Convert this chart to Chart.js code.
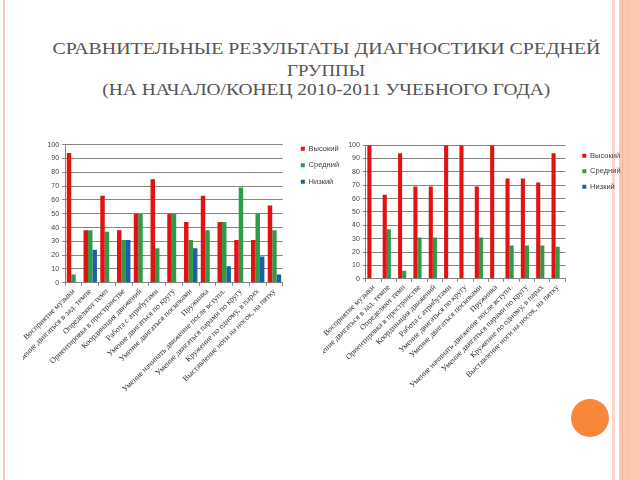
<!DOCTYPE html>
<html><head><meta charset="utf-8">
<script src="https://cdn.jsdelivr.net/npm/chart.js@4"></script>
<style>
html,body{margin:0;padding:0;background:#fff;width:640px;height:480px;overflow:hidden;position:relative;}
.deco{position:absolute;}
.tl{position:absolute;left:0;width:652px;text-align:center;font-family:"Liberation Serif","Times New Roman",serif;color:#555555;font-size:16.5px;line-height:20px;white-space:nowrap;}
.tl span{display:inline-block;transform-origin:center;}
.box{position:absolute;}
</style></head><body>
<div class="deco" style="left:3px;top:0;width:2px;height:480px;background:#f6cabb"></div>
<div class="deco" style="left:612px;top:0;width:3px;height:480px;background:#fbd6c8"></div>
<div class="deco" style="left:619px;top:0;width:21px;height:480px;background:#fcc8b2"></div>
<div class="deco" style="left:622px;top:0;width:1px;height:480px;background:#f3b59c"></div>
<div class="deco" style="left:628px;top:0;width:1px;height:480px;background:#f6bda5"></div>
<div class="deco" style="left:571px;top:399px;width:38px;height:38px;border-radius:50%;background:#f7883a"></div>
<div class="tl" style="top:39px"><span id="t1">СРАВНИТЕЛЬНЫЕ РЕЗУЛЬТАТЫ ДИАГНОСТИКИ СРЕДНЕЙ</span></div>
<div class="tl" style="top:61px"><span id="t2">ГРУППЫ</span></div>
<div class="tl" style="top:80px"><span id="t3">(НА НАЧАЛО/КОНЕЦ 2010-2011 УЧЕБНОГО ГОДА)</span></div>
<div class="box" style="left:23px;top:136px;width:321px;height:259px"><canvas id="c1"></canvas></div>
<div class="box" style="left:323px;top:138px;width:300px;height:253px"><canvas id="c2"></canvas></div>
<script>
const categories = [
  "Восприятие музыки",
  "Умение двигаться в зад. темпе",
  "Определяют темп",
  "Ориентировка в пространстве",
  "Координация движений",
  "Работа с атрибутами",
  "Умение двигаться по кругу",
  "Умение двигаться поскоками",
  "Пружинка",
  "Умение начинать движение после вступл.",
  "Умение двигаться парами по кругу",
  "Кружение по одному, в парах",
  "Выставление ноги на носок, на пятку"
];
const seriesNames = ["Высокий", "Средний", "Низкий"];
// Начало года
const startHigh = [94, 38, 63, 38, 50, 75, 50, 44, 63, 44, 31, 31, 56];
const startMid  = [6, 38, 37, 31, 50, 25, 50, 31, 38, 44, 69, 50, 38];
const startLow  = [0, 24, 0, 31, 0, 0, 0, 25, 0, 12, 0, 19, 6];
// Конец года
const endHigh = [100, 63, 94, 69, 69, 100, 100, 69, 100, 75, 75, 72, 94];
const endMid  = [0, 37, 6, 31, 31, 0, 0, 31, 0, 25, 25, 25, 24];
const endLow  = [0, 0, 0, 0, 0, 0, 0, 0, 0, 0, 0, 0, 0];
const yTicks = [0, 10, 20, 30, 40, 50, 60, 70, 80, 90, 100];

// fit title lines to the reference widths
(function(){
  const widths = {t1:548, t2:78, t3:448};
  for (const id in widths){
    const el = document.getElementById(id);
    const w = el.getBoundingClientRect().width;
    el.style.transform = 'scaleX(' + (widths[id]/w) + ')';
  }
})();

const colors = ["#e01212", "#2f9a48", "#1d5fa6"];

function makeChart(id, high, mid, low, o){
  return new Chart(document.getElementById(id), {
    type: 'bar',
    data: {
      labels: categories,
      datasets: [high, mid, low].map((d, i) => ({
        label: seriesNames[i], data: d, backgroundColor: colors[i],
        borderWidth: 0, categoryPercentage: 0.8, barPercentage: 1.0
      }))
    },
    options: {
      responsive: true, maintainAspectRatio: false, animation: false,
      devicePixelRatio: 1,
      layout: { padding: { left: 8, top: 0, right: 0, bottom: 0 } },
      plugins: {
        legend: {
          position: 'right', align: 'start',
          title: { display: o.legendTop > 0, text: ' ', padding: 0,
            font: { size: Math.max(o.legendTop, 1), lineHeight: 1 } },
          labels: { boxWidth: 4, boxHeight: 4, padding: o.legendPad, color: '#404040',
            font: { family: 'Liberation Sans', size: 7.5 } }
        },
        tooltip: { enabled: false }
      },
      scales: {
        x: {
          grid: { drawOnChartArea: false, drawTicks: true, tickLength: 3, color: '#858585' },
          border: { color: '#858585' },
          ticks: { minRotation: 45, maxRotation: 45, autoSkip: false, color: '#303030', padding: 1,
            font: { family: 'Liberation Serif', size: 8 } }
        },
        y: {
          min: 0, max: 100,
          afterBuildTicks: (ax) => { ax.ticks = yTicks.map(v => ({ value: v })); },
          afterFit: (s) => { if (o.plotTop) s.paddingTop = o.plotTop; },
          grid: { color: '#858585', tickLength: 3 },
          border: { color: '#858585' },
          ticks: { color: '#404040', padding: 3, font: { family: 'Liberation Sans', size: 7 } }
        },
        gapAxis: {
          type: 'linear', position: 'right', display: true,
          grid: { display: false }, border: { display: false },
          ticks: { display: false },
          afterFit: (s) => { s.width = o.gap; }
        }
      }
    }
  });
}
makeChart('c1', startHigh, startMid, startLow, { gap: 9, legendPad: 9, legendTop: 0, plotTop: 8.75 });
makeChart('c2', endHigh, endMid, endLow, { gap: 9, legendPad: 8, legendTop: 6, plotTop: 0 });
</script>
</body></html>
